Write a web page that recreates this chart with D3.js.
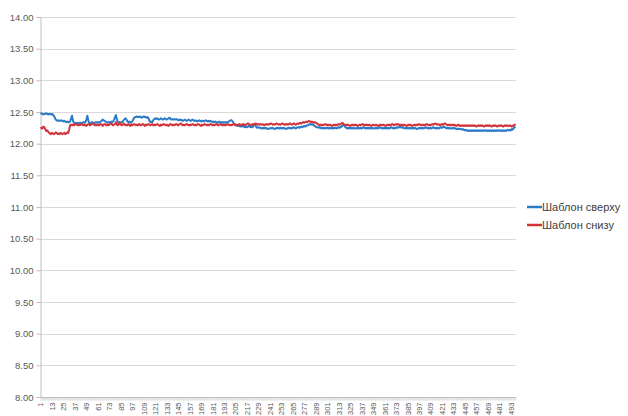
<!DOCTYPE html>
<html>
<head>
<meta charset="utf-8">
<script src="https://cdn.jsdelivr.net/npm/d3@7"></script>
<style>
  body { margin: 0; background: #fff; }
  svg { display: block; font-family: "Liberation Sans", Arial, sans-serif; }
</style>
</head>
<body>
<div id="chart"></div>
<script>
const topTemplate = [
  12.47,12.48,12.47,12.46,12.47,12.47,12.48,12.47,12.46,12.47,
  12.47,12.46,12.47,12.46,12.44,12.41,12.38,12.37,12.36,12.37,
  12.36,12.36,12.37,12.36,12.35,12.36,12.35,12.34,12.35,12.34,
  12.34,12.35,12.40,12.44,12.36,12.33,12.32,12.33,12.32,12.33,
  12.32,12.33,12.33,12.32,12.33,12.34,12.33,12.34,12.38,12.44,
  12.37,12.33,12.32,12.33,12.34,12.33,12.32,12.33,12.34,12.33,
  12.34,12.33,12.34,12.35,12.36,12.38,12.37,12.36,12.35,12.34,
  12.33,12.34,12.33,12.34,12.35,12.34,12.35,12.38,12.42,12.45,
  12.38,12.34,12.33,12.34,12.33,12.34,12.35,12.37,12.39,12.40,
  12.38,12.35,12.34,12.35,12.34,12.33,12.35,12.38,12.41,12.42,
  12.42,12.43,12.42,12.42,12.43,12.42,12.41,12.42,12.43,12.42,
  12.42,12.41,12.42,12.40,12.36,12.34,12.35,12.34,12.37,12.39,
  12.40,12.39,12.40,12.39,12.38,12.39,12.40,12.39,12.38,12.39,
  12.40,12.39,12.38,12.39,12.40,12.41,12.39,12.38,12.39,12.38,
  12.39,12.38,12.39,12.38,12.37,12.38,12.37,12.38,12.37,12.36,
  12.37,12.38,12.37,12.36,12.37,12.38,12.37,12.36,12.37,12.38,
  12.37,12.36,12.37,12.36,12.35,12.36,12.37,12.36,12.35,12.36,
  12.36,12.35,12.36,12.37,12.36,12.35,12.36,12.35,12.36,12.35,
  12.34,12.35,12.34,12.35,12.34,12.33,12.34,12.35,12.34,12.33,
  12.34,12.33,12.34,12.33,12.34,12.33,12.34,12.35,12.36,12.37,
  12.37,12.35,12.33,12.31,12.30,12.29,12.28,12.29,12.28,12.27,
  12.28,12.27,12.28,12.27,12.26,12.27,12.26,12.27,12.28,12.27,
  12.26,12.27,12.26,12.30,12.31,12.28,12.26,12.25,12.26,12.25,
  12.25,12.24,12.25,12.24,12.25,12.24,12.25,12.24,12.23,12.24,
  12.24,12.25,12.24,12.25,12.24,12.23,12.24,12.25,12.24,12.25,
  12.24,12.25,12.24,12.25,12.24,12.25,12.24,12.23,12.24,12.25,
  12.25,12.24,12.25,12.24,12.25,12.26,12.25,12.24,12.25,12.26,
  12.26,12.25,12.26,12.27,12.26,12.27,12.28,12.27,12.28,12.29,
  12.29,12.30,12.31,12.30,12.31,12.30,12.29,12.28,12.27,12.26,
  12.26,12.25,12.26,12.25,12.24,12.25,12.24,12.25,12.24,12.25,
  12.25,12.24,12.25,12.24,12.25,12.24,12.25,12.24,12.25,12.25,
  12.24,12.25,12.26,12.25,12.26,12.27,12.29,12.30,12.28,12.26,
  12.25,12.24,12.25,12.24,12.25,12.24,12.25,12.24,12.25,12.24,
  12.24,12.25,12.24,12.25,12.24,12.25,12.24,12.25,12.26,12.25,
  12.24,12.25,12.24,12.25,12.24,12.25,12.24,12.25,12.24,12.24,
  12.25,12.24,12.25,12.24,12.25,12.26,12.25,12.24,12.25,12.24,
  12.25,12.24,12.25,12.24,12.25,12.24,12.25,12.26,12.25,12.24,
  12.25,12.24,12.25,12.26,12.25,12.26,12.27,12.26,12.25,12.26,
  12.25,12.24,12.25,12.24,12.25,12.24,12.25,12.24,12.25,12.24,
  12.25,12.24,12.25,12.24,12.23,12.24,12.25,12.24,12.25,12.24,
  12.25,12.24,12.25,12.26,12.25,12.24,12.25,12.24,12.25,12.24,
  12.25,12.26,12.25,12.24,12.25,12.24,12.25,12.24,12.25,12.26,
  12.25,12.26,12.27,12.26,12.25,12.24,12.25,12.24,12.25,12.24,
  12.24,12.25,12.24,12.25,12.24,12.23,12.24,12.23,12.24,12.23,
  12.23,12.22,12.23,12.22,12.21,12.22,12.21,12.20,12.21,12.20,
  12.21,12.20,12.21,12.20,12.21,12.20,12.21,12.20,12.21,12.20,
  12.21,12.20,12.21,12.20,12.21,12.21,12.20,12.21,12.20,12.21,
  12.20,12.21,12.20,12.21,12.20,12.21,12.20,12.21,12.20,12.21,
  12.21,12.20,12.21,12.20,12.21,12.20,12.21,12.20,12.21,12.22,
  12.21,12.22,12.21,12.23,12.22,12.24,12.26,12.27
];

const bottomTemplate = [
  12.24,12.25,12.24,12.27,12.26,12.23,12.20,12.21,12.19,12.17,
  12.16,12.15,12.17,12.16,12.15,12.16,12.18,12.17,12.15,12.16,
  12.15,12.17,12.16,12.15,12.16,12.17,12.15,12.16,12.18,12.17,
  12.22,12.29,12.30,12.29,12.30,12.29,12.30,12.31,12.30,12.29,
  12.30,12.29,12.30,12.31,12.30,12.29,12.30,12.29,12.28,12.30,
  12.31,12.30,12.29,12.30,12.31,12.32,12.30,12.29,12.30,12.29,
  12.30,12.29,12.30,12.31,12.30,12.28,12.30,12.31,12.30,12.29,
  12.30,12.29,12.30,12.31,12.32,12.30,12.29,12.30,12.31,12.34,
  12.30,12.29,12.31,12.33,12.30,12.29,12.30,12.32,12.30,12.29,
  12.30,12.29,12.31,12.30,12.28,12.30,12.29,12.30,12.31,12.30,
  12.29,12.30,12.29,12.31,12.30,12.29,12.30,12.31,12.30,12.28,
  12.30,12.29,12.30,12.31,12.30,12.29,12.30,12.31,12.29,12.30,
  12.29,12.30,12.31,12.30,12.29,12.28,12.30,12.29,12.30,12.31,
  12.30,12.29,12.30,12.29,12.28,12.30,12.31,12.30,12.29,12.30,
  12.29,12.30,12.31,12.30,12.29,12.30,12.31,12.32,12.30,12.29,
  12.30,12.29,12.30,12.31,12.30,12.29,12.30,12.29,12.30,12.31,
  12.30,12.29,12.30,12.29,12.30,12.31,12.30,12.29,12.28,12.30,
  12.29,12.30,12.31,12.30,12.29,12.30,12.29,12.30,12.31,12.30,
  12.29,12.30,12.29,12.30,12.31,12.30,12.29,12.30,12.31,12.30,
  12.29,12.30,12.29,12.30,12.29,12.30,12.31,12.30,12.29,12.30,
  12.29,12.30,12.31,12.30,12.29,12.30,12.29,12.30,12.31,12.30,
  12.29,12.30,12.31,12.30,12.29,12.30,12.31,12.32,12.31,12.30,
  12.29,12.30,12.31,12.30,12.31,12.32,12.31,12.30,12.31,12.30,
  12.31,12.30,12.31,12.30,12.29,12.30,12.31,12.30,12.31,12.30,
  12.31,12.32,12.31,12.30,12.31,12.30,12.31,12.32,12.31,12.30,
  12.31,12.30,12.31,12.32,12.31,12.30,12.31,12.30,12.31,12.30,
  12.31,12.32,12.31,12.30,12.31,12.32,12.31,12.30,12.31,12.32,
  12.31,12.32,12.33,12.32,12.33,12.34,12.33,12.34,12.35,12.34,
  12.35,12.36,12.35,12.34,12.35,12.34,12.33,12.34,12.33,12.32,
  12.31,12.30,12.29,12.30,12.29,12.30,12.29,12.30,12.31,12.30,
  12.29,12.30,12.29,12.30,12.29,12.28,12.29,12.30,12.29,12.30,
  12.29,12.30,12.31,12.30,12.31,12.32,12.33,12.31,12.30,12.29,
  12.30,12.29,12.30,12.29,12.28,12.29,12.30,12.29,12.30,12.29,
  12.30,12.29,12.28,12.29,12.30,12.29,12.30,12.31,12.30,12.29,
  12.30,12.29,12.30,12.29,12.30,12.29,12.28,12.29,12.30,12.29,
  12.29,12.30,12.29,12.28,12.29,12.30,12.29,12.30,12.29,12.30,
  12.29,12.28,12.29,12.30,12.29,12.30,12.29,12.30,12.31,12.30,
  12.29,12.30,12.31,12.30,12.31,12.30,12.29,12.30,12.29,12.30,
  12.29,12.30,12.29,12.28,12.29,12.30,12.29,12.30,12.29,12.28,
  12.29,12.30,12.29,12.30,12.29,12.30,12.31,12.30,12.29,12.30,
  12.29,12.30,12.29,12.30,12.31,12.30,12.29,12.30,12.29,12.30,
  12.31,12.30,12.31,12.32,12.31,12.30,12.31,12.30,12.29,12.30,
  12.31,12.30,12.31,12.32,12.31,12.30,12.29,12.30,12.29,12.30,
  12.29,12.30,12.29,12.30,12.29,12.28,12.29,12.30,12.29,12.28,
  12.29,12.28,12.29,12.28,12.29,12.28,12.29,12.28,12.29,12.28,
  12.29,12.28,12.29,12.28,12.29,12.28,12.27,12.28,12.29,12.28,
  12.29,12.28,12.29,12.28,12.27,12.28,12.29,12.28,12.29,12.28,
  12.29,12.28,12.27,12.28,12.29,12.28,12.29,12.28,12.27,12.28,
  12.29,12.28,12.29,12.28,12.27,12.28,12.29,12.28,12.29,12.28,
  12.28,12.29,12.28,12.27,12.28,12.29,12.30,12.29
];

const seriesNames = ["Шаблон сверху", "Шаблон снизу"];
const seriesColors = ["#2b7bc6", "#d1353b"];
const yTicks = [8, 8.5, 9, 9.5, 10, 10.5, 11, 11.5, 12, 12.5, 13, 13.5, 14];

const width = 628, height = 416;
const margin = { top: 17, right: 112, bottom: 19, left: 40 };

const categories = d3.range(1, topTemplate.length + 1);
const xLabels = categories.filter(c => (c - 1) % 12 === 0);

const svg = d3.select("#chart").append("svg")
  .attr("width", width)
  .attr("height", height);

const x = d3.scaleBand()
  .domain(categories)
  .range([margin.left, width - margin.right])
  .padding(0);

const y = d3.scaleLinear()
  .domain([8, 14])
  .range([height - margin.bottom, margin.top]);

// gridlines
svg.append("g")
  .selectAll("line")
  .data(yTicks.filter(t => t > 8))
  .enter().append("line")
  .attr("x1", margin.left)
  .attr("x2", width - margin.right)
  .attr("y1", d => Math.round(y(d)) + 0.5)
  .attr("y2", d => Math.round(y(d)) + 0.5)
  .attr("stroke", "#d9d9d9")
  .attr("stroke-width", 1);

// y axis
const yAxis = svg.append("g")
  .attr("transform", `translate(${margin.left + 0.5},0)`)
  .call(d3.axisLeft(y).tickValues(yTicks).tickFormat(d3.format(".2f")).tickSize(4).tickPadding(3));
yAxis.select(".domain").attr("stroke", "#bfbfbf");
yAxis.selectAll(".tick line").attr("stroke", "#bfbfbf");
yAxis.selectAll("text")
  .attr("fill", "#595959")
  .style("font-size", "9.5px");

// x axis: a tick for every category, a label every 12th
const xAxis = svg.append("g")
  .attr("transform", `translate(0,${Math.round(y(8)) + 0.5})`);
xAxis.append("line")
  .attr("x1", margin.left)
  .attr("x2", width - margin.right)
  .attr("stroke", "#bfbfbf");
xAxis.selectAll("line.tk")
  .data(categories)
  .enter().append("line")
  .attr("class", "tk")
  .attr("x1", d => x(d) + x.bandwidth())
  .attr("x2", d => x(d) + x.bandwidth())
  .attr("y1", 0)
  .attr("y2", 3)
  .attr("stroke", "#c8c8c8")
  .attr("stroke-width", 0.5);
xAxis.selectAll("text")
  .data(xLabels)
  .enter().append("text")
  .attr("transform", d => `translate(${x(d) + x.bandwidth() / 2 + 3},5) rotate(-90)`)
  .attr("text-anchor", "end")
  .attr("fill", "#595959")
  .style("font-size", "7.5px")
  .text(d => d);

// lines
const line = d3.line()
  .x((d, i) => x(categories[i]) + x.bandwidth() / 2)
  .y(d => y(d));

[topTemplate, bottomTemplate].forEach((vals, k) => {
  svg.append("path")
    .datum(vals)
    .attr("fill", "none")
    .attr("stroke", seriesColors[k])
    .attr("stroke-width", 2)
    .attr("stroke-linejoin", "round")
    .attr("d", line);
});

// legend
const legend = svg.append("g")
  .attr("transform", "translate(527,207)");
seriesNames.forEach((name, k) => {
  const g = legend.append("g").attr("transform", `translate(0,${k * 18})`);
  g.append("line")
    .attr("x1", 0).attr("x2", 15)
    .attr("stroke", seriesColors[k])
    .attr("stroke-width", 2.5);
  g.append("text")
    .attr("x", 15)
    .attr("y", 4)
    .attr("fill", "#404040")
    .style("font-size", "11px")
    .text(name);
});
</script>
</body>
</html>
